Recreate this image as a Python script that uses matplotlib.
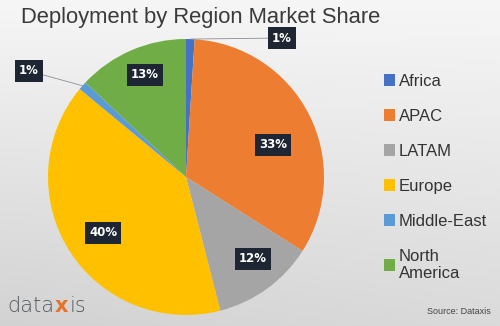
import numpy as np
import matplotlib
matplotlib.use("Agg")
import matplotlib.pyplot as plt

regions = ["Africa", "APAC", "LATAM", "Europe", "Middle-East", "North\nAmerica"]
shares = [1, 33, 12, 40, 1, 13]
colors = ["#4472C4", "#ED7D31", "#A5A5A5", "#FFC000", "#5B9BD5", "#70AD47"]
title = "Deployment by Region Market Share"
source = "Source: Dataxis"

# label anchor points (pixels from top-left)
label_pos = [(282, 38), (273, 145), (253, 259), (103, 233), (29, 71), (145, 75)]

W, H = 500, 326
fig = plt.figure(figsize=(W / 100, H / 100), dpi=100)

# soft grey background gradient
bg = fig.add_axes([0, 0, 1, 1], zorder=-10)
yy, xx = np.mgrid[0:1:200j, 0:1:300j]
shade = 0.965 - 0.11 * yy - 0.03 * (1 - xx) * yy
bg.imshow(np.dstack([shade] * 3), extent=[0, 1, 0, 1], aspect="auto", origin="upper")
bg.axis("off")

def px(x, y):
    return x / W, 1 - y / H

cx, cy, r = 186, 177, 138
ax = fig.add_axes([(cx - r) / W, (H - cy - r) / H, 2 * r / W, 2 * r / H])
wedges, _ = ax.pie(shares, colors=colors, startangle=90, counterclock=False,
                   radius=1.0, wedgeprops=dict(linewidth=0))
ax.set_xlim(-1, 1)
ax.set_ylim(-1, 1)
ax.set_aspect("equal")

box = dict(boxstyle="square,pad=0.35", fc="#1d2632", ec="none")
lab_kw = dict(color="white", fontsize=8.5, fontweight="bold", ha="center", va="center",
              bbox=box, family="DejaVu Sans")

for w, v, (tx, ty) in zip(wedges, shares, label_pos):
    lx, ly = (tx - cx) / r, (cy - ty) / r
    if v >= 5:
        ax.text(lx, ly, f"{v}%", **lab_kw)
    else:
        mid = np.deg2rad((w.theta1 + w.theta2) / 2)
        ax.annotate(f"{v}%", xy=(np.cos(mid), np.sin(mid)), xytext=(lx, ly),
                    arrowprops=dict(arrowstyle="-", color="#8a8f96", lw=0.6,
                                    shrinkA=0, shrinkB=0),
                    annotation_clip=False, **lab_kw)

fig.text(*px(21, 18), title, fontsize=15.8, color="#3a3a3a", ha="left", va="center",
         family="Liberation Sans")

leg = fig.legend(wedges, regions, loc="upper left", bbox_to_anchor=px(377, 67),
                 frameon=False, handlelength=0.7, handleheight=0.7,
                 handletextpad=0.2, labelspacing=1.2, borderaxespad=0,
                 prop=dict(family="Liberation Sans", size=12))
for t in leg.get_texts():
    t.set_color("#333333")

# logo: "data" + orange "x" + "is", laid out from measured extents
fig.canvas.draw()
renderer = fig.canvas.get_renderer()
x0, ly = px(7, 306)
for part, col, wt in [("data", "#555a60", "light"), ("x", "#e8722c", "bold"),
                      ("is", "#555a60", "light")]:
    t = fig.text(x0, ly, part, fontsize=15, color=col, ha="left", va="center",
                 family="DejaVu Sans", fontweight=wt)
    bb = t.get_window_extent(renderer)
    x0 = bb.x1 / W + 0.002

fig.text(*px(491, 312), source, fontsize=6.5, color="#444444", ha="right", va="center",
         family="Liberation Sans")

fig.savefig("out.png", dpi=100)
